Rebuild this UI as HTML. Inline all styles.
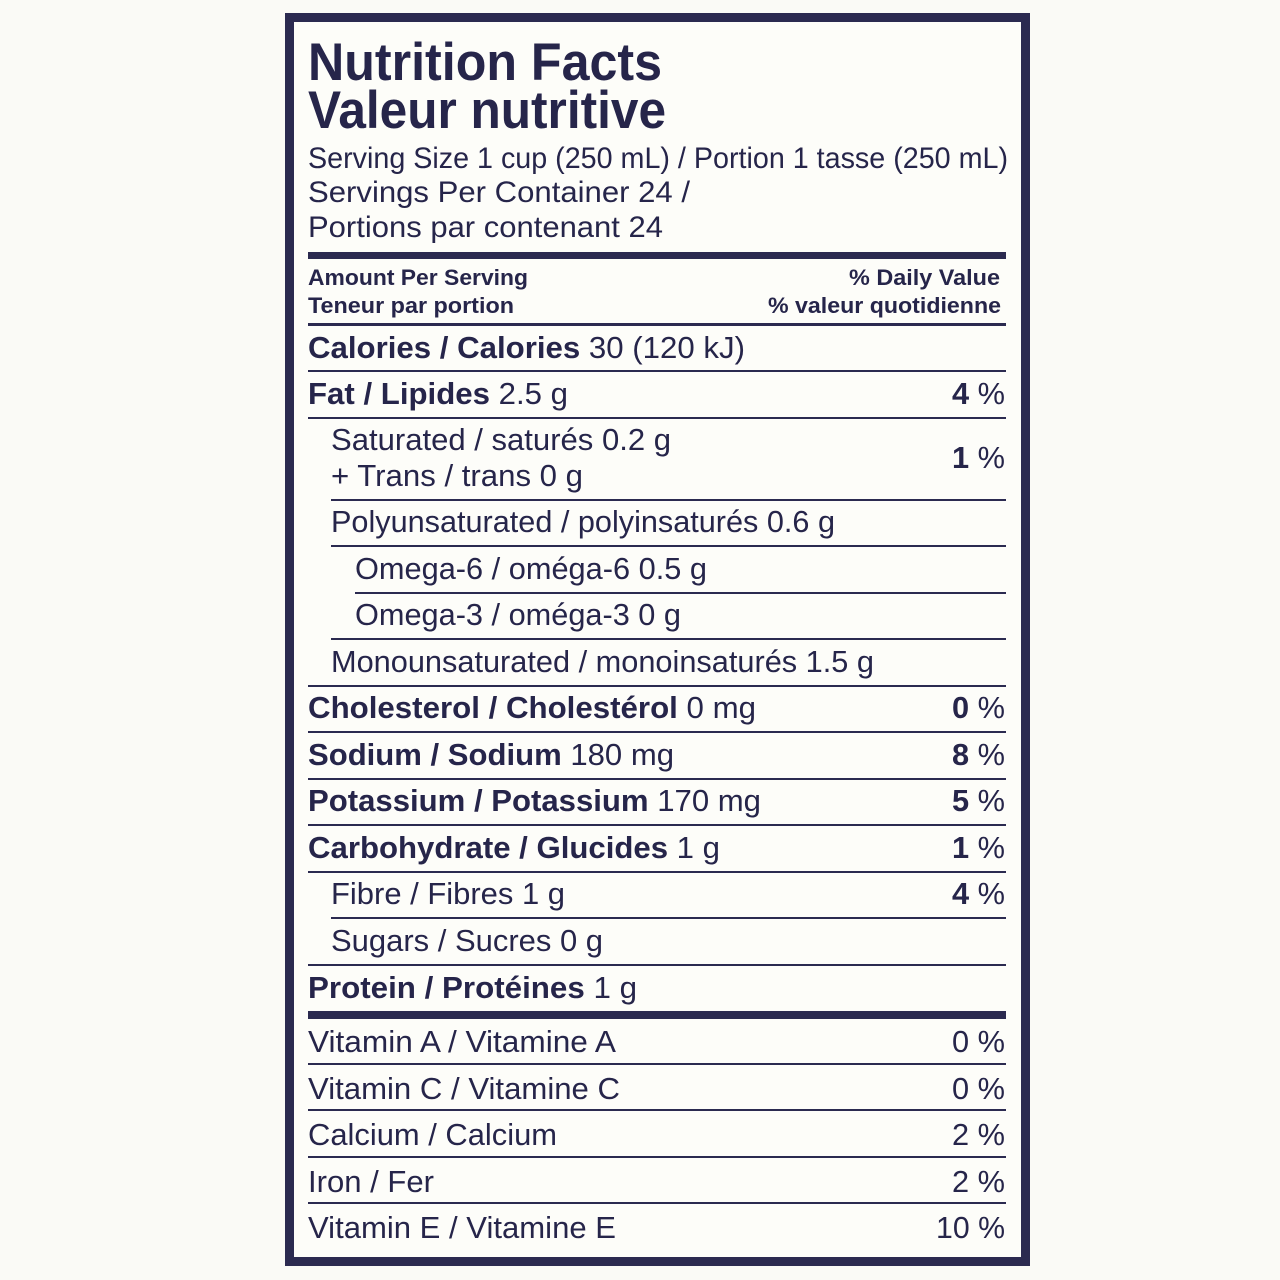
<!DOCTYPE html>
<html><head><meta charset="utf-8"><style>
html,body{margin:0;padding:0;background:#fafaf6;}
svg{display:block}
text{font-family:"Liberation Sans",Arial,sans-serif;fill:#26254a;}
.b{font-weight:bold}
</style></head><body>
<svg width="1280" height="1280" viewBox="0 0 1280 1280" xmlns="http://www.w3.org/2000/svg">
<rect x="0" y="0" width="1280" height="1280" fill="#fafaf6"/>
<rect x="289.5" y="17.5" width="736" height="1244" fill="#fdfdf9" stroke="#2b2a50" stroke-width="9"/>
<g fill="#2b2a50">
<rect x="308" y="252" width="698" height="7"/>
<rect x="308" y="323" width="698" height="3"/>
<rect x="308" y="370" width="698" height="2"/>
<rect x="308" y="417" width="698" height="2"/>
<rect x="331" y="499" width="675" height="2"/>
<rect x="331" y="545" width="675" height="2"/>
<rect x="355" y="592" width="651" height="2"/>
<rect x="331" y="638" width="675" height="2"/>
<rect x="308" y="685" width="698" height="2"/>
<rect x="308" y="731" width="698" height="2"/>
<rect x="308" y="778" width="698" height="2"/>
<rect x="308" y="824" width="698" height="2"/>
<rect x="308" y="871" width="698" height="2"/>
<rect x="331" y="917" width="675" height="2"/>
<rect x="308" y="964" width="698" height="2"/>
<rect x="308" y="1011" width="698" height="8"/>
<rect x="308" y="1063" width="698" height="2"/>
<rect x="308" y="1109" width="698" height="2"/>
<rect x="308" y="1156" width="698" height="2"/>
<rect x="308" y="1202" width="698" height="2"/>
</g>
<text class="b" x="308" y="80" font-size="53" textLength="354" lengthAdjust="spacingAndGlyphs">Nutrition Facts</text>
<text class="b" x="308" y="128" font-size="53" textLength="358" lengthAdjust="spacingAndGlyphs">Valeur nutritive</text>
<text x="308" y="168" font-size="29.5" textLength="700" lengthAdjust="spacingAndGlyphs">Serving Size 1 cup (250 mL) / Portion 1 tasse (250 mL)</text>
<text x="308" y="202" font-size="29.5" textLength="382" lengthAdjust="spacingAndGlyphs">Servings Per Container 24 /</text>
<text x="308" y="237" font-size="29.5" textLength="355" lengthAdjust="spacingAndGlyphs">Portions par contenant 24</text>
<text class="b" x="308" y="285" font-size="22.5" textLength="220" lengthAdjust="spacingAndGlyphs">Amount Per Serving</text>
<text class="b" x="308" y="313" font-size="22.5" textLength="206" lengthAdjust="spacingAndGlyphs">Teneur par portion</text>
<text class="b" x="1000" y="285" font-size="22.5" text-anchor="end" textLength="151" lengthAdjust="spacingAndGlyphs">% Daily Value</text>
<text class="b" x="1001" y="313" font-size="22.5" text-anchor="end" textLength="233" lengthAdjust="spacingAndGlyphs">% valeur quotidienne</text>

<g font-size="30.5">
<text x="308" y="358" textLength="437" lengthAdjust="spacingAndGlyphs"><tspan class="b">Calories / Calories</tspan> 30 (120 kJ)</text>
<text x="308" y="404" textLength="260" lengthAdjust="spacingAndGlyphs"><tspan class="b">Fat / Lipides</tspan> 2.5 g</text>
<text x="331" y="450" textLength="340" lengthAdjust="spacingAndGlyphs">Saturated / saturés 0.2 g</text>
<text x="331" y="486" textLength="252" lengthAdjust="spacingAndGlyphs">+ Trans / trans 0 g</text>
<text x="331" y="532" textLength="504" lengthAdjust="spacingAndGlyphs">Polyunsaturated / polyinsaturés 0.6 g</text>
<text x="355" y="579" textLength="352" lengthAdjust="spacingAndGlyphs">Omega-6 / oméga-6 0.5 g</text>
<text x="355" y="625" textLength="326" lengthAdjust="spacingAndGlyphs">Omega-3 / oméga-3 0 g</text>
<text x="331" y="672" textLength="543" lengthAdjust="spacingAndGlyphs">Monounsaturated / monoinsaturés 1.5 g</text>
<text x="308" y="718" textLength="448" lengthAdjust="spacingAndGlyphs"><tspan class="b">Cholesterol / Cholestérol</tspan> 0 mg</text>
<text x="308" y="765" textLength="366" lengthAdjust="spacingAndGlyphs"><tspan class="b">Sodium / Sodium</tspan> 180 mg</text>
<text x="308" y="811" textLength="453" lengthAdjust="spacingAndGlyphs"><tspan class="b">Potassium / Potassium</tspan> 170 mg</text>
<text x="308" y="858" textLength="412" lengthAdjust="spacingAndGlyphs"><tspan class="b">Carbohydrate / Glucides</tspan> 1 g</text>
<text x="331" y="904" textLength="234" lengthAdjust="spacingAndGlyphs">Fibre / Fibres 1 g</text>
<text x="331" y="951" textLength="272" lengthAdjust="spacingAndGlyphs">Sugars / Sucres 0 g</text>
<text x="308" y="998" textLength="329" lengthAdjust="spacingAndGlyphs"><tspan class="b">Protein / Protéines</tspan> 1 g</text>
<text x="308" y="1052" textLength="308" lengthAdjust="spacingAndGlyphs">Vitamin A / Vitamine A</text>
<text x="308" y="1099" textLength="312" lengthAdjust="spacingAndGlyphs">Vitamin C / Vitamine C</text>
<text x="308" y="1145" textLength="249" lengthAdjust="spacingAndGlyphs">Calcium / Calcium</text>
<text x="308" y="1192" textLength="126" lengthAdjust="spacingAndGlyphs">Iron / Fer</text>
<text x="308" y="1238" textLength="308" lengthAdjust="spacingAndGlyphs">Vitamin E / Vitamine E</text>

<g text-anchor="end">
<text x="1005" y="404" textLength="53" lengthAdjust="spacingAndGlyphs"><tspan class="b">4</tspan> %</text>
<text x="1005" y="468" textLength="53" lengthAdjust="spacingAndGlyphs"><tspan class="b">1</tspan> %</text>
<text x="1005" y="718" textLength="53" lengthAdjust="spacingAndGlyphs"><tspan class="b">0</tspan> %</text>
<text x="1005" y="765" textLength="53" lengthAdjust="spacingAndGlyphs"><tspan class="b">8</tspan> %</text>
<text x="1005" y="811" textLength="53" lengthAdjust="spacingAndGlyphs"><tspan class="b">5</tspan> %</text>
<text x="1005" y="858" textLength="53" lengthAdjust="spacingAndGlyphs"><tspan class="b">1</tspan> %</text>
<text x="1005" y="904" textLength="53" lengthAdjust="spacingAndGlyphs"><tspan class="b">4</tspan> %</text>
<text x="1005" y="1052" textLength="53" lengthAdjust="spacingAndGlyphs">0 %</text>
<text x="1005" y="1099" textLength="53" lengthAdjust="spacingAndGlyphs">0 %</text>
<text x="1005" y="1145" textLength="53" lengthAdjust="spacingAndGlyphs">2 %</text>
<text x="1005" y="1192" textLength="53" lengthAdjust="spacingAndGlyphs">2 %</text>
<text x="1005" y="1238" textLength="69" lengthAdjust="spacingAndGlyphs">10 %</text>
</g>
</g>
</svg>
</body></html>
